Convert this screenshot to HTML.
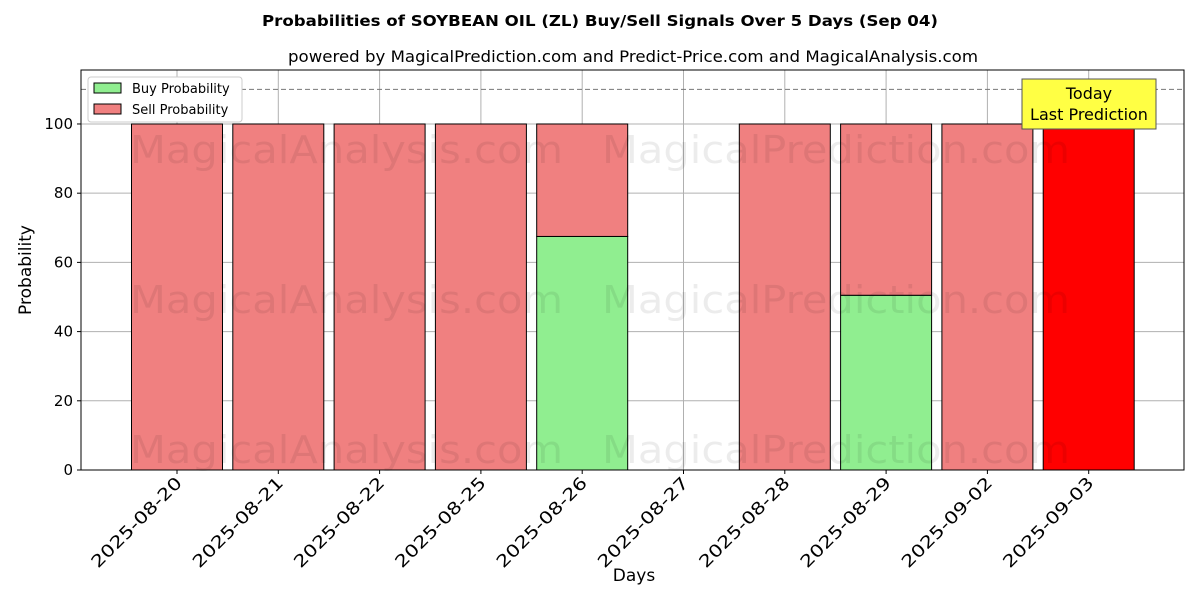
<!DOCTYPE html>
<html><head><meta charset="utf-8"><style>body{margin:0;background:#fff}svg{font-family:"DejaVu Sans","Liberation Sans",sans-serif}</style></head>
<body>
<svg id="c" width="1200" height="600" xmlns="http://www.w3.org/2000/svg">
<text x="262" y="26" font-size="15" font-weight="bold" textLength="676" lengthAdjust="spacingAndGlyphs">Probabilities of SOYBEAN OIL (ZL) Buy/Sell Signals Over 5 Days (Sep 04)</text>
<text x="288" y="62" font-size="16" textLength="690" lengthAdjust="spacingAndGlyphs">powered by MagicalPrediction.com and Predict-Price.com and MagicalAnalysis.com</text>
<g id="grid"></g>
<g id="bars"></g>
<g font-size="38" fill="#000" opacity="0.07">
<text x="130" y="163" textLength="433" lengthAdjust="spacingAndGlyphs">MagicalAnalysis.com</text><text x="602" y="163" textLength="468" lengthAdjust="spacingAndGlyphs">MagicalPrediction.com</text>
<text x="130" y="313" textLength="433" lengthAdjust="spacingAndGlyphs">MagicalAnalysis.com</text><text x="602" y="313" textLength="468" lengthAdjust="spacingAndGlyphs">MagicalPrediction.com</text>
<text x="130" y="463" textLength="433" lengthAdjust="spacingAndGlyphs">MagicalAnalysis.com</text><text x="602" y="463" textLength="468" lengthAdjust="spacingAndGlyphs">MagicalPrediction.com</text>
</g>
<line x1="81" x2="1184" y1="89.4" y2="89.4" stroke="#777" stroke-dasharray="5,3"/>
<rect x="81" y="70" width="1103" height="400" fill="none" stroke="#000"/>
<g id="axes"></g>
<text x="634" y="581" text-anchor="middle" font-size="17">Days</text>
<text transform="translate(31,270) rotate(-90)" text-anchor="middle" font-size="17">Probability</text>
<g>
<rect x="88" y="77" width="154" height="45" fill="#fff" stroke="#ccc" rx="3"/>
<rect x="94" y="83" width="27" height="10" fill="#90ee90" stroke="#000"/>
<text x="132" y="93" font-size="13">Buy Probability</text>
<rect x="94" y="104" width="27" height="10" fill="#f08080" stroke="#000"/>
<text x="132" y="114" font-size="13">Sell Probability</text>
</g>
<g>
<rect x="1022" y="79" width="134" height="50" fill="#ffff44" stroke="#555"/>
<text x="1089" y="99" text-anchor="middle" font-size="16">Today</text>
<text x="1089" y="120" text-anchor="middle" font-size="16">Last Prediction</text>
</g>
</svg>
<script>
const categories=["2025-08-20","2025-08-21","2025-08-22","2025-08-25","2025-08-26","2025-08-27","2025-08-28","2025-08-29","2025-09-02","2025-09-03"];
const buyValues=[0,0,0,0,67.5,0,0,50.5,0,0];
const sellValues=[100,100,100,100,32.5,0,100,49.5,100,100];
const yTicks=[0,20,40,60,80,100];
const NS="http://www.w3.org/2000/svg";
const L=81,R=1184,T=70,B=470,yMax=115.6;
const x0=177,step=101.3,bw=91;
const xs=i=>x0+i*step;
const ys=v=>B-v*(B-T)/yMax;
function mk(t,a,p){const e=document.createElementNS(NS,t);for(const k in a)e.setAttribute(k,a[k]);p.appendChild(e);return e;}
const grid=document.getElementById('grid'),bars=document.getElementById('bars'),axes=document.getElementById('axes');
yTicks.forEach(v=>{
 const g=mk('line',{x1:L,x2:R,y1:ys(v),y2:ys(v),stroke:'#b0b0b0'},grid);
 
 
 mk('line',{x1:L-4,x2:L,y1:ys(v),y2:ys(v),stroke:'#000'},axes);
 const t=mk('text',{x:L-8,y:ys(v)+5,'text-anchor':'end','font-size':15},axes);t.textContent=v;
 
 
});
categories.forEach((c,i)=>{
 const x=xs(i);
 const g=mk('line',{x1:x,x2:x,y1:T,y2:B,stroke:'#b0b0b0'},grid);
 
 
 mk('line',{x1:x,x2:x,y1:B,y2:B+4,stroke:'#000'},axes);
 const t=mk('text',{'text-anchor':'end','font-size':17,textLength:120,lengthAdjust:'spacingAndGlyphs',transform:`translate(${x+6},${B+14}) rotate(-45)`},axes);t.textContent=c;
 
 
 const last=i===categories.length-1;
 if(buyValues[i]>0){
  const b=mk('rect',{x:x-bw/2,y:ys(buyValues[i]),width:bw,height:B-ys(buyValues[i]),fill:'#90ee90',stroke:'#000'},bars);
  
  
 }
 if(sellValues[i]>0){
  const top=buyValues[i]+sellValues[i];
  const s=mk('rect',{x:x-bw/2,y:ys(top),width:bw,height:ys(buyValues[i])-ys(top),fill:last?'#ff0000':'#f08080',stroke:'#000'},bars);
  
  
 }
});
</script>
</body></html>
